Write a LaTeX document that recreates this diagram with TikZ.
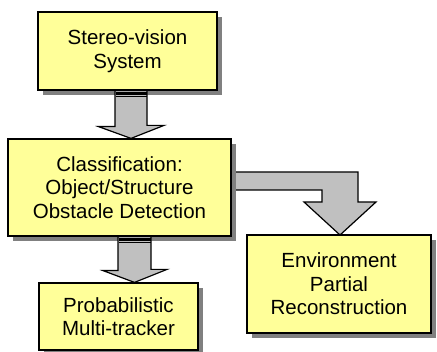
\documentclass[tikz,border=0pt]{standalone}
\usepackage{fontspec}
\setmainfont{Liberation Sans}
\usepackage{tikz}
\usetikzlibrary{shapes,arrows,positioning,shadows,calc}
\definecolor{boxyellow}{RGB}{255,255,153}
\definecolor{arrowgray}{RGB}{192,192,192}
\definecolor{shadowgray}{RGB}{128,128,128}

\begin{document}
\begin{tikzpicture}[
    x=1pt, y=-1pt,
    block/.style={rectangle, draw, line width=1.2pt, fill=boxyellow, align=center, inner sep=0pt,
        font=\fontsize{20.5}{23.5}\selectfont,
        drop shadow={shadow xshift=5pt, shadow yshift=-5pt, fill=shadowgray, opacity=1}},
    blockarrow/.style={draw, line width=1.2pt, fill=arrowgray, line join=miter}
]
    \useasboundingbox (0,0) rectangle (437,352);

    % bent arrow goes under the classification box
    \coordinate (c0) at (119.5,187.5);
    \draw[blockarrow] ($(c0)+(90,-15.5)$) -- (358,172) -- (358,202) -- (376,202)
        -- (340,235) -- (304,202) -- (322,202) -- (322,190) -- ($(c0)+(90,2.5)$) -- cycle;

    \node[block, minimum width=179pt, minimum height=78pt] (stereo) at (127.5,51) {Stereo-vision\\System};
    \node[block, minimum width=223pt, minimum height=97pt] (classif) at (c0) {Classification:\\Object/Structure\\Obstacle Detection};
    \node[block, minimum width=184pt, minimum height=98pt] (env) at (339,284) {Environment\\Partial\\Reconstruction};
    \node[block, minimum width=159pt, minimum height=67pt] (track) at (118.5,316.5) {Probabilistic\\Multi-tracker};

    \draw[blockarrow] ($(stereo.south)+(-12.5,0)$) -- ++(0,36) -- ++(-16.5,0) -- ($(classif.north)+(11.5,0)$)
        -- ++(33,-13) -- ++(-17,0) -- ($(stereo.south)+(19.5,0)$) -- cycle;
    \draw[line width=3pt] ($(stereo.south)+(-12,2.5)$) -- ++(31,0);
    \draw[line width=1pt] ($(stereo.south)+(-12,6)$) -- ++(31,0);

    \draw[blockarrow] ($(classif.south)+(-1.5,0)$) -- ++(0,34) -- ++(-15,0) -- ($(track.north)+(16,0)$)
        -- ++(32.5,-13) -- ++(-16,0) -- ($(classif.south)+(31.5,0)$) -- cycle;
    \draw[line width=3pt] ($(classif.south)+(-1,2.5)$) -- ++(32,0);
    \draw[line width=1pt] ($(classif.south)+(-1,6)$) -- ++(32,0);
\end{tikzpicture}
\end{document}
